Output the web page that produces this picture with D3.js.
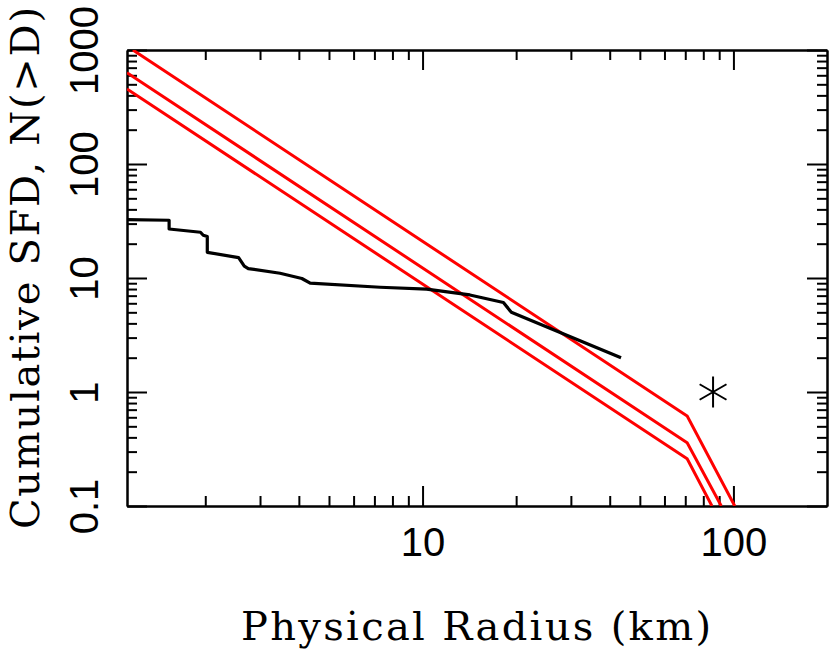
<!DOCTYPE html>
<html>
<head>
<meta charset="utf-8">
<script src="https://cdn.jsdelivr.net/npm/d3@7"></script>
<style>
body { margin: 0; background: #fff; }
.axis .domain, .axis .tick line { stroke: #000; stroke-width: 2; }
.axis text { font-family: "Liberation Sans", Arial, sans-serif; font-size: 40px; fill: #000; }
.title { font-family: "DejaVu Serif", serif; font-size: 40px; fill: #000; }
</style>
</head>
<body>
<div id="graph"></div>
<script>
// observed cumulative SFD (black)
var obsD = [1.12, 1.53, 1.53, 1.93, 1.97, 2.03, 2.03, 2.56, 2.67, 2.75, 3.48, 4.09, 4.35, 7.3, 10.3, 14.2, 18.2, 19.3, 43.5];
var obsN = [32.5, 32.1, 26.9, 25.2, 23.7, 23.1, 16.8, 15.1, 12.7, 12.1, 11.0, 9.9, 9.0, 8.3, 8.0, 7.1, 6.1, 5.0, 2.0];

// model SFDs (red), one row per curve
var modelD = [[1.17, 71, 101], [1.12, 71, 91.4], [1.12, 71, 85.3]];
var modelN = [[1000, 0.615, 0.1], [632, 0.359, 0.1], [455, 0.26, 0.1]];

// single object marked with an asterisk
var starD = [86];
var starN = [1];

var xMajor = [10, 100];
var xMinor = [2, 3, 4, 5, 6, 7, 8, 9, 20, 30, 40, 50, 60, 70, 80, 90];
var yMajor = [0.1, 1, 10, 100, 1000];
var yMinor = [0.2, 0.3, 0.4, 0.5, 0.6, 0.7, 0.8, 0.9, 2, 3, 4, 5, 6, 7, 8, 9,
              20, 30, 40, 50, 60, 70, 80, 90, 200, 300, 400, 500, 600, 700, 800, 900];

var width = 830, height = 652;
var margin = {left: 127, top: 50};
var w = 700, h = 456;

var svg = d3.select('#graph').append('svg').attr('width', width).attr('height', height);

var x = d3.scaleLog().domain([1.12, 200]).range([0, w]);
var y = d3.scaleLog().domain([0.1, 1000]).range([h, 0]);

var chartGroup = svg.append('g').attr('transform', 'translate(' + margin.left + ',' + margin.top + ')');

chartGroup.append('clipPath').attr('id', 'clip')
  .append('rect').attr('width', w).attr('height', h);

// frame with inward ticks on all four sides
function addAxis(axisFn, scale, vals, size, tx, ty, labels) {
  var ax = axisFn(scale).tickValues(vals).tickSize(-size).tickSizeOuter(0);
  if (labels) ax.tickPadding(22).tickFormat(d3.format('~g'));
  else ax.tickFormat('');
  return chartGroup.append('g').attr('class', 'axis')
    .attr('transform', 'translate(' + tx + ',' + ty + ')')
    .call(ax);
}

addAxis(d3.axisBottom, x, xMinor, 10, 0, h, false);
addAxis(d3.axisBottom, x, xMajor, 20, 0, h, true);
addAxis(d3.axisTop, x, xMinor, 10, 0, 0, false);
addAxis(d3.axisTop, x, xMajor, 20, 0, 0, false);
addAxis(d3.axisRight, y, yMinor, 10, w, 0, false);
addAxis(d3.axisRight, y, yMajor, 20, w, 0, false);
addAxis(d3.axisLeft, y, yMinor, 10, 0, 0, false);
var yAx = addAxis(d3.axisLeft, y, yMajor, 20, 0, 0, true);

chartGroup.selectAll('.axis').attr('font-family', null).attr('font-size', null);

yAx.selectAll('text')
  .attr('x', 0).attr('dy', null)
  .attr('text-anchor', 'middle')
  .attr('transform', 'translate(-29,0) rotate(-90)');

var line = d3.line()
  .x(function(d) { return x(d[0]); })
  .y(function(d) { return y(d[1]); });

var plot = chartGroup.append('g').attr('clip-path', 'url(#clip)');

plot.selectAll('path.model')
  .data(modelD.map(function(ds, i) { return d3.zip(ds, modelN[i]); }))
  .enter().append('path')
  .attr('class', 'model')
  .attr('d', line)
  .attr('fill', 'none')
  .attr('stroke', '#ff0000')
  .attr('stroke-width', 3);

plot.append('path')
  .datum(d3.zip(obsD, obsN))
  .attr('d', line)
  .attr('fill', 'none')
  .attr('stroke', '#000')
  .attr('stroke-width', 3.2)
  .attr('stroke-linejoin', 'round');

chartGroup.selectAll('path.star')
  .data(d3.zip(starD, starN))
  .enter().append('path')
  .attr('class', 'star')
  .attr('d', d3.symbol().type(d3.symbolAsterisk || d3.symbolTimes).size(680))
  .attr('transform', function(d) { return 'translate(' + x(d[0]) + ',' + y(d[1]) + ')'; })
  .attr('fill', 'none')
  .attr('stroke', '#000')
  .attr('stroke-width', 2);

svg.append('text')
  .attr('class', 'title')
  .attr('text-anchor', 'middle')
  .attr('x', 476)
  .attr('y', 640)
  .attr('textLength', 470)
  .attr('lengthAdjust', 'spacing')
  .text('Physical Radius (km)');

svg.append('text')
  .attr('class', 'title')
  .attr('text-anchor', 'middle')
  .attr('transform', 'translate(39,268) rotate(-90)')
  .attr('textLength', 522)
  .attr('lengthAdjust', 'spacing')
  .text('Cumulative SFD, N(>D)');
</script>
</body>
</html>
